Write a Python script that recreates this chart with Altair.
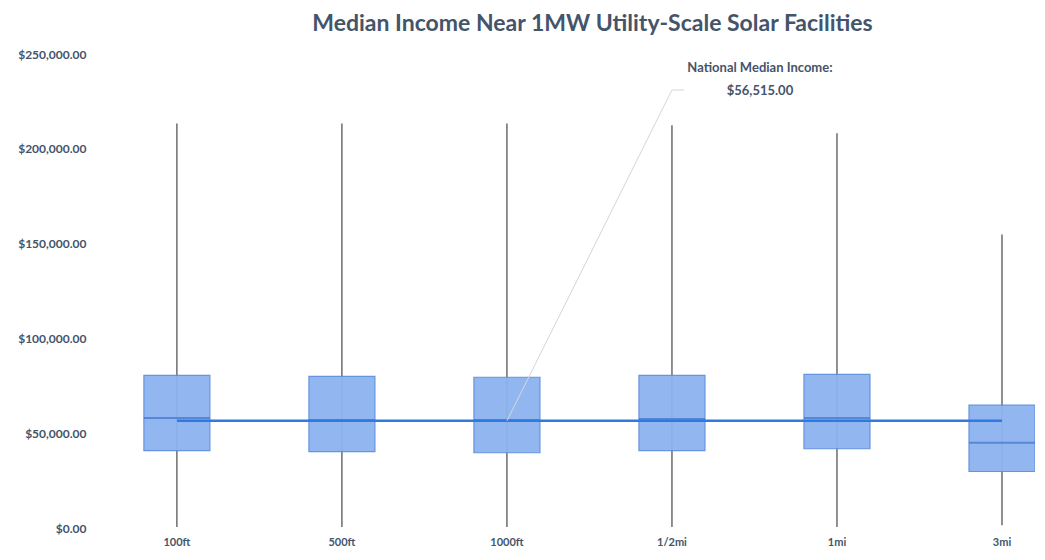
import altair as alt
import pandas as pd

categories = ["100ft", "500ft", "1000ft", "1/2mi", "1mi", "3mi"]
whisker_low = [500, 500, 500, 500, 500, 1500]
q1 = [40800, 40300, 39700, 40800, 41800, 29800]
median = [58000, 57000, 57000, 57500, 58000, 45000]
q3 = [80500, 80000, 79500, 80500, 81000, 64800]
whisker_high = [213400, 213400, 213400, 212400, 208200, 154800]
national_median = [56515, 56515, 56515, 56515, 56515, 56515]

df = pd.DataFrame({
    "cat": categories,
    "lo": whisker_low,
    "q1": q1,
    "med": median,
    "q3": q3,
    "hi": whisker_high,
    "nat": national_median,
})

FONT = "Lato"
TXT = "#44546A"

x_scale = alt.Scale(domain=categories, paddingInner=0.6, paddingOuter=0.133, align=1)
x = alt.X("cat:N", scale=x_scale,
          axis=alt.Axis(title=None, labelAngle=0, domain=False, ticks=False,
                        labelFont=FONT, labelFontSize=11, labelFontWeight="bold",
                        labelColor=TXT, labelPadding=8))
y_scale = alt.Scale(domain=[0, 250000], nice=False)
y = alt.Y("lo:Q", scale=y_scale,
          axis=alt.Axis(title=None, values=[0, 50000, 100000, 150000, 200000, 250000],
                        format="$,.2f", grid=False, domain=False, ticks=False,
                        labelFont=FONT, labelFontSize=12, labelFontWeight="bold",
                        labelColor=TXT, labelPadding=14))

base = alt.Chart(df)

whiskers = base.mark_rule(color="#555555", strokeWidth=1.3).encode(x=x, y=y, y2="hi:Q")
boxes = base.mark_bar(size=66, color="#8DB4F0", stroke="#5E8FDD", strokeWidth=1.2,
                      opacity=0.95).encode(x=x, y=alt.Y("q1:Q", scale=y_scale), y2="q3:Q")
meds = base.mark_tick(size=66, thickness=2, color="#3F74CC").encode(
    x=x, y=alt.Y("med:Q", scale=y_scale))
nat_line = base.mark_line(color="#2F7AE0", strokeWidth=2.5).encode(
    x=x, y=alt.Y("nat:Q", scale=y_scale))

ann_df = pd.DataFrame({"c0": ["1000ft"], "v0": [56515], "c1": ["1/2mi"], "v1": [231000]})
ann = alt.Chart(ann_df)
leader = ann.mark_rule(color="#D4D6DA", strokeWidth=1).encode(
    x=alt.X("c0:N", scale=x_scale), y=alt.Y("v0:Q", scale=y_scale),
    x2="c1:N", y2="v1:Q")
leader2 = ann.mark_rule(color="#D4D6DA", strokeWidth=1, x2Offset=12).encode(
    x=alt.X("c1:N", scale=x_scale), x2="c1:N", y=alt.Y("v1:Q", scale=y_scale))
label = ann.mark_text(font=FONT, fontSize=13, fontWeight="bold", color=TXT,
                      align="center", baseline="middle", dx=88, dy=-22,
                      lineHeight=23).encode(
    x=alt.X("c1:N", scale=x_scale), y=alt.Y("v1:Q", scale=y_scale),
    text=alt.value(["National Median Income:", "$56,515.00"]))

chart = alt.layer(whiskers, boxes, meds, nat_line, leader, leader2, label).properties(
    width=935, height=474,
    title=alt.TitleParams("Median Income Near 1MW Utility-Scale Solar Facilities",
                          font=FONT, fontSize=23, fontWeight="bold", color=TXT,
                          anchor="middle", dx=25, offset=12),
    autosize=alt.AutoSizeParams(type="none"),
    padding={"left": 92, "top": 46, "right": 0, "bottom": 18},
).configure_view(stroke=None)

chart.save("out.html", embed_options={"renderer": "svg", "actions": False})
